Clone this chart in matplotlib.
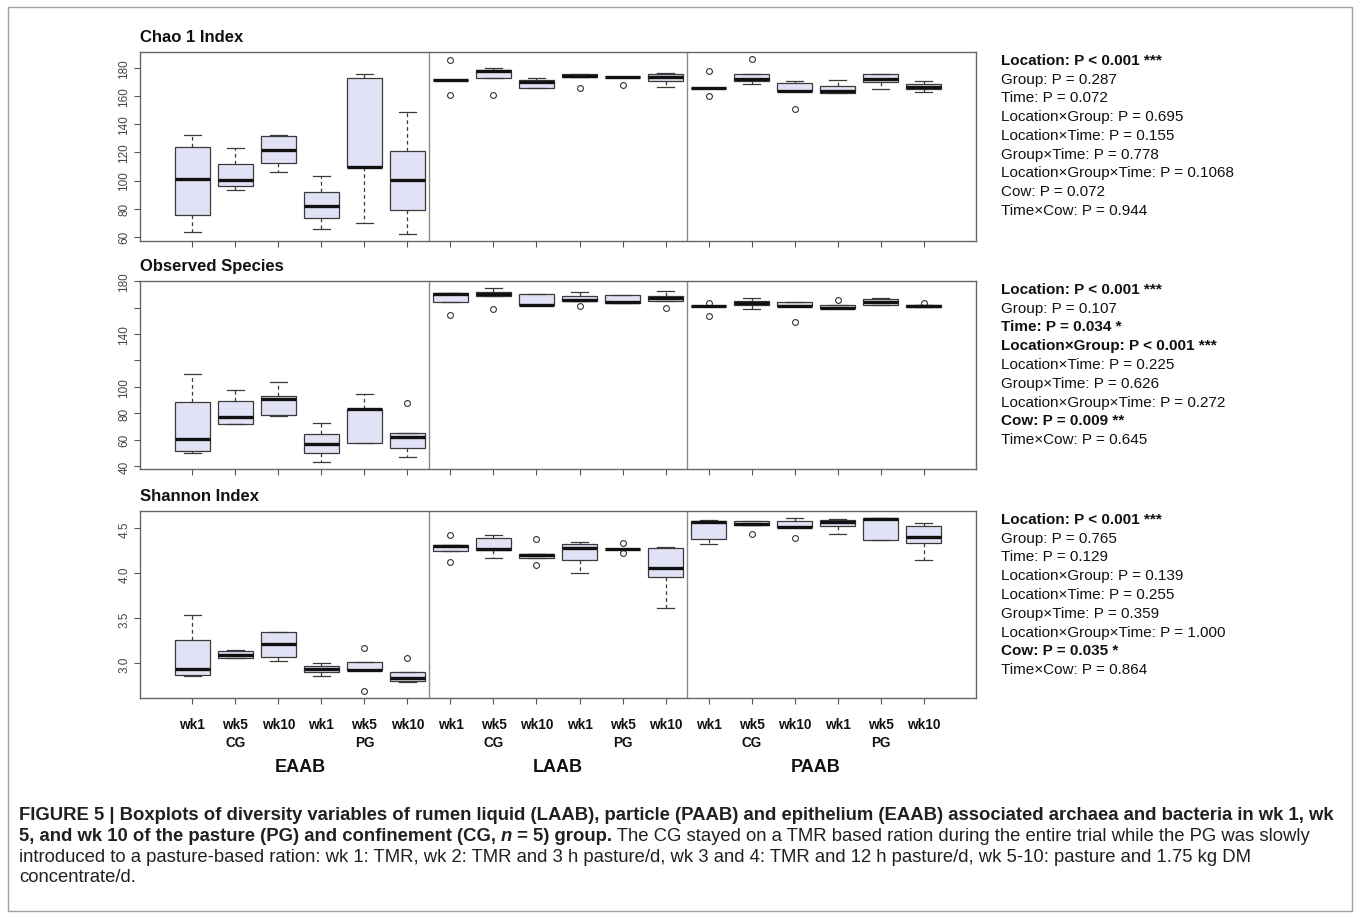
import matplotlib
matplotlib.use('Agg')
import matplotlib.pyplot as plt
import matplotlib.transforms as mtransforms
from matplotlib.patches import Rectangle

W, H = 1360, 920
plt.rcParams['font.family'] = ['Liberation Sans', 'DejaVu Sans']

# ---- data ----
positions = list(range(1, 19))
week_labels = ['wk1', 'wk5', 'wk10'] * 6
group_labels = ['CG', 'PG'] * 3
group_pos = [2, 5, 8, 11, 14, 17]
locations = ['EAAB', 'LAAB', 'PAAB']
location_pos = [3.5, 9.5, 15.5]

# Chao 1 index: whisker low, Q1, median, Q3, whisker high, outliers
chao_lo = [63.3, 93.1, 106.4, 65.2, 69.5, 62.1, 171.6, 173.3, 165.9, 173.6, 173.6, 166.6,
           165.9, 168.6, 163.8, 162.6, 165.0, 163.1]
chao_q1 = [75.4, 96.4, 112.4, 73.6, 109.7, 79.3, 171.6, 173.3, 165.9, 173.6, 173.6, 170.9,
           165.9, 171.2, 163.8, 162.6, 170.0, 165.0]
chao_med = [101.4, 100.2, 121.6, 81.9, 109.7, 100.7, 171.6, 178.1, 170.5, 174.7, 173.6, 173.8,
            165.9, 172.1, 163.8, 163.6, 172.4, 166.9]
chao_q3 = [123.6, 111.9, 131.9, 92.1, 173.3, 120.7, 171.6, 178.8, 171.9, 175.9, 173.6, 175.7,
           165.9, 175.9, 169.3, 167.4, 175.7, 168.6]
chao_hi = [132.6, 123.3, 132.3, 102.9, 175.7, 148.8, 171.6, 180.4, 173.1, 175.9, 173.6, 176.9,
           165.9, 175.9, 170.7, 171.9, 175.7, 170.9]
chao_out = [[], [], [], [], [], [], [186.1, 160.9], [160.9], [], [166.2], [168.1], [],
            [178.3, 160.2], [186.6], [150.9], [], [], []]

# Observed species
obs_lo = [50.2, 72.2, 78.0, 43.2, 57.5, 46.7, 164.6, 168.9, 161.9, 164.8, 163.6, 165.4,
          161.1, 158.8, 161.6, 159.5, 161.8, 160.3]
obs_q1 = [51.7, 72.2, 79.0, 49.5, 57.5, 54.0, 164.6, 168.9, 161.9, 164.8, 163.6, 165.4,
          161.1, 161.8, 161.6, 159.5, 161.8, 160.3]
obs_med = [60.3, 77.0, 90.9, 56.3, 83.3, 61.8, 170.8, 170.7, 162.3, 166.1, 164.2, 167.4,
           161.1, 163.6, 161.6, 160.0, 164.6, 161.1]
obs_q3 = [88.3, 89.1, 93.1, 64.6, 83.3, 65.1, 171.0, 171.9, 170.2, 169.2, 169.9, 168.9,
          161.1, 164.8, 164.6, 162.3, 166.6, 161.8]
obs_hi = [110.1, 97.7, 103.7, 72.7, 94.9, 65.1, 171.0, 175.2, 170.2, 172.2, 169.9, 173.0,
          161.1, 167.6, 164.6, 162.3, 167.1, 161.8]
obs_out = [[], [], [], [], [], [87.6], [154.8], [159.0], [], [161.1], [], [160.0],
           [163.5, 153.7], [], [149.2], [165.8], [], [163.8]]

# Shannon index
sha_lo = [2.856, 3.062, 3.029, 2.863, 2.925, 2.789, 4.248, 4.170, 4.175, 4.000, 4.275, 3.613,
          4.322, 4.533, 4.511, 4.433, 4.375, 4.149]
sha_q1 = [2.870, 3.062, 3.066, 2.900, 2.925, 2.800, 4.248, 4.260, 4.175, 4.145, 4.275, 3.964,
          4.381, 4.533, 4.511, 4.530, 4.375, 4.337]
sha_med = [2.933, 3.092, 3.210, 2.937, 2.929, 2.837, 4.304, 4.275, 4.200, 4.282, 4.275, 4.060,
           4.570, 4.544, 4.511, 4.570, 4.607, 4.408]
sha_q3 = [3.258, 3.136, 3.347, 2.974, 3.011, 2.900, 4.315, 4.393, 4.219, 4.322, 4.275, 4.282,
          4.578, 4.585, 4.578, 4.592, 4.614, 4.530]
sha_hi = [3.539, 3.151, 3.347, 3.007, 3.011, 2.900, 4.315, 4.422, 4.219, 4.348, 4.275, 4.297,
          4.592, 4.585, 4.611, 4.603, 4.614, 4.563]
sha_out = [[], [], [], [], [3.173, 2.693], [3.059], [4.430, 4.123], [], [4.386, 4.093], [],
           [4.334, 4.226], [], [], [4.441], [4.393], [], [], []]

chao_stats = [('Location: P < 0.001 ***', True), ('Group: P = 0.287', False),
              ('Time: P = 0.072', False), ('Location\u00d7Group: P = 0.695', False),
              ('Location\u00d7Time: P = 0.155', False), ('Group\u00d7Time: P = 0.778', False),
              ('Location\u00d7Group\u00d7Time: P = 0.1068', False), ('Cow: P = 0.072', False),
              ('Time\u00d7Cow: P = 0.944', False)]
obs_stats = [('Location: P < 0.001 ***', True), ('Group: P = 0.107', False),
             ('Time: P = 0.034 *', True), ('Location\u00d7Group: P < 0.001 ***', True),
             ('Location\u00d7Time: P = 0.225', False), ('Group\u00d7Time: P = 0.626', False),
             ('Location\u00d7Group\u00d7Time: P = 0.272', False), ('Cow: P = 0.009 **', True),
             ('Time\u00d7Cow: P = 0.645', False)]
sha_stats = [('Location: P < 0.001 ***', True), ('Group: P = 0.765', False),
             ('Time: P = 0.129', False), ('Location\u00d7Group: P = 0.139', False),
             ('Location\u00d7Time: P = 0.255', False), ('Group\u00d7Time: P = 0.359', False),
             ('Location\u00d7Group\u00d7Time: P = 1.000', False), ('Cow: P = 0.035 *', True),
             ('Time\u00d7Cow: P = 0.864', False)]

BOXFILL = '#E2E2F6'
EDGE = '#3a3a3a'

fig = plt.figure(figsize=(W / 100, H / 100), dpi=100)
renderer = fig.canvas.get_renderer()


def fx(x):
    return x / W


def fy(y):
    return 1 - y / H


def panel(top, bot, title, lo, q1, med, q3, hi, out, ylim, yticks, ylabels, stats):
    ax = fig.add_axes([fx(140), fy(bot), (976 - 140) / W, (bot - top) / H])
    st = [dict(whislo=a, q1=b, med=c, q3=d, whishi=e, fliers=f)
          for a, b, c, d, e, f in zip(lo, q1, med, q3, hi, out)]
    ax.bxp(st, positions=positions, widths=0.8, patch_artist=True,
           boxprops=dict(facecolor=BOXFILL, edgecolor=EDGE, linewidth=0.9),
           medianprops=dict(color='#111111', linewidth=2.4, solid_capstyle='butt'),
           whiskerprops=dict(color=EDGE, linewidth=0.9, linestyle=(0, (3, 2.5))),
           capprops=dict(color=EDGE, linewidth=0.9),
           flierprops=dict(marker='o', markersize=4.2, markerfacecolor='none',
                           markeredgecolor='#333333', markeredgewidth=0.8))
    ax.set_xlim(-0.22, 19.22)
    ax.set_ylim(ylim)
    for s in (6.5, 12.5):
        ax.axvline(s, color='#8a8a8a', linewidth=1.0)
    ax.set_xticks(positions)
    ax.set_xticklabels([])
    ax.set_yticks(yticks)
    ax.set_yticklabels(ylabels, rotation=90, va='center', fontsize=8.5, color='#444444')
    ax.tick_params(length=4, width=0.8, color='#555555', pad=3)
    for sp in ax.spines.values():
        sp.set_color('#666666')
        sp.set_linewidth(1.0)
    fig.text(fx(140), fy(top - 11), title, fontsize=12, fontweight='bold',
             va='baseline', ha='left', color='#111111')
    for i, (txt, bold) in enumerate(stats):
        fig.text(fx(1001), fy(top + 8 + i * 18.75), txt, fontsize=11,
                 fontweight='bold' if bold else 'normal', va='center', ha='left',
                 color='#111111')
    return ax


panel(53, 242, 'Chao 1 Index', chao_lo, chao_q1, chao_med, chao_q3, chao_hi, chao_out,
      (56.9, 191.6), [60, 80, 100, 120, 140, 160, 180],
      ['60', '80', '100', '120', '140', '160', '180'], chao_stats)
panel(282, 470, 'Observed Species', obs_lo, obs_q1, obs_med, obs_q3, obs_hi, obs_out,
      (37.7, 180.3), [40, 60, 80, 100, 120, 140, 160, 180],
      ['40', '60', '80', '100', '', '140', '', '180'], obs_stats)
ax3 = panel(512, 699, 'Shannon Index', sha_lo, sha_q1, sha_med, sha_q3, sha_hi, sha_out,
            (2.615, 4.692), [3.0, 3.5, 4.0, 4.5], ['3.0', '3.5', '4.0', '4.5'], sha_stats)

# category labels below the bottom panel
tr = mtransforms.blended_transform_factory(ax3.transData, fig.transFigure)
for p, lab in zip(positions, week_labels):
    ax3.text(p, fy(725), lab, transform=tr, ha='center', va='center', fontsize=9.8,
             fontweight='bold', color='#111111')
for p, lab in zip(group_pos, group_labels):
    ax3.text(p, fy(743), lab, transform=tr, ha='center', va='center', fontsize=9.8,
             fontweight='bold', color='#111111')
for p, lab in zip(location_pos, locations):
    ax3.text(p, fy(768), lab, transform=tr, ha='center', va='center', fontsize=13,
             fontweight='bold', color='#111111')

# caption
CAP_FONT = ['Liberation Sans', 'DejaVu Sans']
cap1 = [('FIGURE 5 | Boxplots of diversity variables of rumen liquid (LAAB), particle (PAAB) '
         'and epithelium (EAAB) associated archaea and bacteria in wk 1, wk', 'bold', 'normal')]
cap2 = [('5, and wk 10 of the pasture (PG) and confinement (CG, ', 'bold', 'normal'),
        ('n', 'bold', 'italic'),
        (' = 5) group.', 'bold', 'normal'),
        (' The CG stayed on a TMR based ration during the entire trial while the PG was slowly',
         'normal', 'normal')]
cap3 = [('introduced to a pasture-based ration: wk 1: TMR, wk 2: TMR and 3 h pasture/d, wk 3 '
         'and 4: TMR and 12 h pasture/d, wk 5-10: pasture and 1.75 kg DM', 'normal', 'normal')]
cap4 = [('concentrate/d.', 'normal', 'normal')]

# no condensed face installed: size the caption so its first line spans the reference width
probe = fig.text(0, 0, cap1[0][0], fontsize=10, family=CAP_FONT, fontweight='bold')
cap_size = 10 * 1318 / probe.get_window_extent(renderer).width
probe.remove()


def text_width(s, weight, style):
    a = fig.text(0, 0, 'x' + s + 'x', fontsize=cap_size, family=CAP_FONT,
                 fontweight=weight, fontstyle=style)
    b = fig.text(0, 0, 'xx', fontsize=cap_size, family=CAP_FONT,
                 fontweight=weight, fontstyle=style)
    w = a.get_window_extent(renderer).width - b.get_window_extent(renderer).width
    a.remove()
    b.remove()
    return w


for y, runs in zip([820, 841, 862, 882], [cap1, cap2, cap3, cap4]):
    x = 19
    for s, weight, style in runs:
        fig.text(fx(x), fy(y), s, fontsize=cap_size, family=CAP_FONT, fontweight=weight,
                 fontstyle=style, va='baseline', ha='left', color='#231f20')
        x += text_width(s, weight, style)

# outer frame
fig.patches.append(Rectangle((fx(8), fy(912)), (1352 - 8) / W, (912 - 8) / H,
                             transform=fig.transFigure, fill=False,
                             edgecolor='#a0a0a0', linewidth=1.0))

fig.savefig('out.png', dpi=100)
